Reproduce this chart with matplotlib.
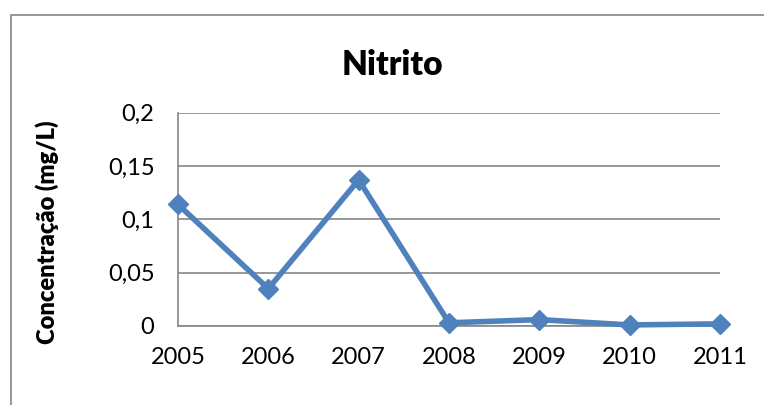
import matplotlib
matplotlib.use("Agg")
import matplotlib.pyplot as plt
from matplotlib.patches import Rectangle

plt.rcParams['font.family'] = ['Lato', 'DejaVu Sans']

years = ["2005", "2006", "2007", "2008", "2009", "2010", "2011"]
values = [0.114, 0.035, 0.137, 0.003, 0.006, 0.001, 0.002]
yticks = [0, 0.05, 0.1, 0.15, 0.2]
ytick_labels = ["0", "0,05", "0,1", "0,15", "0,2"]

fig = plt.figure(figsize=(7.64, 4.05), dpi=100)
fig.patch.set_facecolor("white")

# outer chart border
fig.add_artist(Rectangle((11/764, -0.1), 1.2, 1 - 15/405 + 0.1,
                         transform=fig.transFigure, fill=False,
                         edgecolor="#868686", linewidth=1.2))

ax = fig.add_axes([178/764, 1 - 326/405, (720-178)/764, (326-112.7)/405])
x = list(range(len(years)))
ax.plot(x, values, color="#4F81BD", linewidth=4, marker="D",
        markersize=10.5, markerfacecolor="#4F81BD", markeredgecolor="#4F81BD",
        clip_on=False, zorder=3)

ax.set_xlim(0, len(years) - 1)
ax.set_ylim(0, 0.2)
ax.set_xticks(x)
ax.set_xticklabels(years, fontsize=17)
ax.set_yticks(yticks)
ax.set_yticklabels(ytick_labels, fontsize=17)
ax.tick_params(axis='y', length=0, pad=17)
ax.tick_params(axis='x', length=0, pad=15)
ax.grid(axis='y', color="#868686", linewidth=1.2)
ax.set_axisbelow(True)
for s in ["top", "right"]:
    ax.spines[s].set_visible(False)
ax.spines["left"].set_color("#868686")
ax.spines["left"].set_linewidth(1.2)
ax.spines["bottom"].set_color("#868686")
ax.spines["bottom"].set_linewidth(1.2)

fig.text(392/764, 1 - 65/405, "Nitrito", fontsize=24, fontweight="heavy",
         ha="center", va="center")
fig.text(47/764, 1 - 232/405, "Concentração (mg/L)", fontsize=17,
         fontweight="heavy", rotation=90, ha="center", va="center")

fig.savefig("out.png", dpi=100)
